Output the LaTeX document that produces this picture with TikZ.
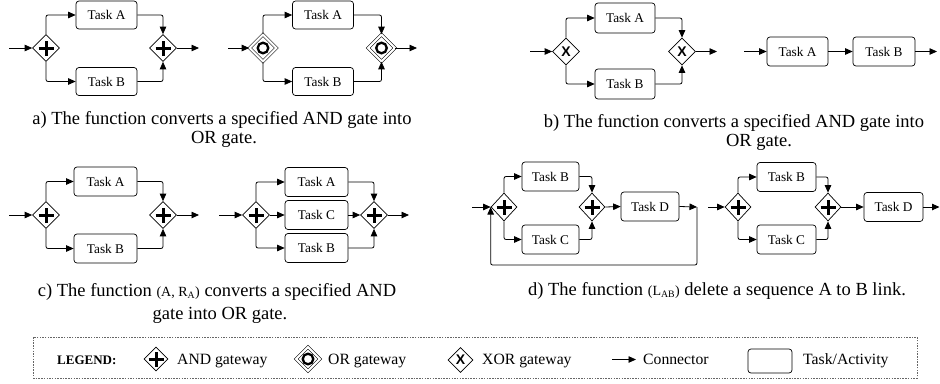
\documentclass[tikz,border=0pt]{standalone}
\usepackage{fontspec}
\setmainfont{Liberation Serif}
\setsansfont{Liberation Sans}
\usetikzlibrary{shapes.geometric,arrows.meta}
\tikzset{
  task/.style={draw, rounded corners=3pt, minimum width=61pt, minimum height=28pt, inner sep=0pt,
    font=\fontsize{13.3}{15}\selectfont, line width=0.7pt},
  gwbase/.style={diamond, draw, minimum width=27pt, minimum height=27pt, inner sep=0pt,
    line width=0.7pt, fill=white},
  andgw/.style={gwbase, path picture={
    \draw[line width=3pt] ([xshift=-7.5pt]path picture bounding box.center) -- ([xshift=7.5pt]path picture bounding box.center);
    \draw[line width=3pt] ([yshift=-7.5pt]path picture bounding box.center) -- ([yshift=7.5pt]path picture bounding box.center);}},
  orgw/.style={gwbase, double, line width=0.55pt, double distance=2pt, path picture={
    \draw[line width=2.3pt] (path picture bounding box.center) circle[radius=5.3pt];}},
  xorgw/.style={gwbase, font=\sffamily\bfseries\fontsize{14}{14}\selectfont},
  conn/.style={line width=0.8pt, -{Triangle[length=7.5pt,width=6.5pt]}, rounded corners=2pt},
  captxt/.style={font=\fontsize{18.5}{20}\selectfont, anchor=base, inner sep=0pt},
  lgtext/.style={font=\fontsize{15.7}{16}\selectfont, anchor=base west, inner sep=0pt},
}
\begin{document}
\begin{tikzpicture}[x=1pt,y=-1pt]
\useasboundingbox (0,0) rectangle (940,383);

% ---------------- panel a left
\coordinate (a1in) at (9,48);
\node[andgw] (g1) at (46,48) {};
\node[task] (ta1) at (106.5,15) {Task A};
\node[task] (tb1) at (106.5,81.5) {Task B};
\node[andgw] (g2) at (163,48) {};
\coordinate (a1out) at (199,48);
\draw[conn] (a1in) -- (g1.west);
\draw[conn] (g1.north) |- (ta1.west);
\draw[conn] (g1.south) |- (tb1.west);
\draw[conn] (ta1.east) -| (g2.north);
\draw[conn] (tb1.east) -| (g2.south);
\draw[conn] (g2.east) -- (a1out);

% ---------------- panel a right
\coordinate (a2in) at (228,48);
\node[orgw] (g3) at (263,48) {};
\node[task] (ta2) at (323,15) {Task A};
\node[task] (tb2) at (323,81.5) {Task B};
\node[orgw] (g4) at (381.5,48) {};
\coordinate (a2out) at (417,48);
\draw[conn] (a2in) -- (g3.west);
\draw[conn] (g3.north) |- (ta2.west);
\draw[conn] (g3.south) |- (tb2.west);
\draw[conn] (ta2.east) -| (g4.north);
\draw[conn] (tb2.east) -| (g4.south);
\draw[conn] (g4.east) -- (a2out);

\node[captxt] (capa1) at (222,124) {a) The function converts a specified AND gate into};
\node[captxt] (capa2) at (224,143) {OR gate.};

% ---------------- panel b left
\coordinate (b1in) at (530,51.5);
\node[xorgw] (g5) at (566,51.5) {X};
\node[task, minimum width=60pt, minimum height=30pt] (ta3) at (625,18) {Task A};
\node[task, minimum width=60pt, minimum height=30pt] (tb3) at (625,84) {Task B};
\node[xorgw] (g6) at (682,51.5) {X};
\coordinate (b1out) at (717,51.5);
\draw[conn] (b1in) -- (g5.west);
\draw[conn] (g5.north) |- (ta3.west);
\draw[conn] (g5.south) |- (tb3.west);
\draw[conn] (ta3.east) -| (g6.north);
\draw[conn] (tb3.east) -| (g6.south);
\draw[conn] (g6.east) -- (b1out);

% ---------------- panel b right
\coordinate (b2in) at (744,51.5);
\node[task, minimum height=29pt] (ta4) at (797.5,51.5) {Task A};
\node[task, minimum width=62pt, minimum height=29pt] (tb4) at (884,51.5) {Task B};
\coordinate (b2out) at (937,51.5);
\draw[conn] (b2in) -- (ta4.west);
\draw[conn] (ta4.east) -- (tb4.west);
\draw[conn] (tb4.east) -- (b2out);

\node[captxt] (capb1) at (734,127) {b) The function converts a specified AND gate into};
\node[captxt] (capb2) at (759,146) {OR gate.};

% ---------------- panel c left
\coordinate (c1in) at (9,215);
\node[andgw] (g7) at (46,215) {};
\node[task, minimum width=63pt, minimum height=29pt] (ta5) at (105.5,181.5) {Task A};
\node[task, minimum width=63pt, minimum height=29pt] (tb5) at (105.5,248.5) {Task B};
\node[andgw] (g8) at (163,215) {};
\coordinate (c1out) at (199,215);
\draw[conn] (c1in) -- (g7.west);
\draw[conn] (g7.north) |- (ta5.west);
\draw[conn] (g7.south) |- (tb5.west);
\draw[conn] (ta5.east) -| (g8.north);
\draw[conn] (tb5.east) -| (g8.south);
\draw[conn] (g8.east) -- (c1out);

% ---------------- panel c right
\coordinate (c2in) at (219,215);
\node[andgw] (g9) at (256,215) {};
\node[task, minimum width=63pt, minimum height=29pt] (ta6) at (316.5,182) {Task A};
\node[task, minimum width=63pt, minimum height=29pt] (tc6) at (316.5,215) {Task C};
\node[task, minimum width=63pt, minimum height=29pt] (tb6) at (316.5,248) {Task B};
\node[andgw] (g10) at (374,215) {};
\coordinate (c2out) at (409,215);
\draw[conn] (c2in) -- (g9.west);
\draw[conn] (g9.north) |- (ta6.west);
\draw[conn] (g9.east) -- (tc6.west);
\draw[conn] (g9.south) |- (tb6.west);
\draw[conn] (ta6.east) -| (g10.north);
\draw[conn] (tc6.east) -- (g10.west);
\draw[conn] (tb6.east) -| (g10.south);
\draw[conn] (g10.east) -- (c2out);

\node[captxt] (capc1) at (217,296.5) {c) The function {\fontsize{14}{14}\selectfont (A, R\textsubscript{A})} converts a specified AND};
\node[captxt] (capc2) at (220,319) {gate into OR gate.};

% ---------------- panel d left
\coordinate (d1in) at (472,207);
\node[andgw, minimum width=26pt, minimum height=28pt] (g11) at (504,207) {};
\node[task, minimum width=57pt, minimum height=29pt] (tb7) at (550.5,176.5) {Task B};
\node[task, minimum width=57pt, minimum height=29pt] (tc7) at (550.5,239.5) {Task C};
\node[andgw, minimum width=26pt, minimum height=28pt] (g12) at (592,207) {};
\node[task, minimum width=58pt, minimum height=29pt] (td7) at (650,206.5) {Task D};
\coordinate (d1loop) at (697,207);
\coordinate (d1low) at (697,265);
\draw[conn] (d1in) -- (g11.west);
\draw[conn] (g11.north) |- (tb7.west);
\draw[conn] (g11.south) |- (tc7.west);
\draw[conn] (tb7.east) -| (g12.north);
\draw[conn] (tc7.east) -| (g12.south);
\draw[conn] (g12.east) -- (td7.west);
\draw[conn] (td7.east) -- (d1loop);
\draw[conn] (d1loop) -- (d1low) -| (g11.west);

% ---------------- panel d right
\coordinate (d2in) at (708,207);
\node[andgw, minimum width=26pt, minimum height=28pt] (g13) at (738,207) {};
\node[task, minimum width=59pt, minimum height=29pt] (tb8) at (786.5,177) {Task B};
\node[task, minimum width=59pt, minimum height=29pt] (tc8) at (786.5,239.5) {Task C};
\node[andgw, minimum width=26pt, minimum height=28pt] (g14) at (828,207) {};
\node[task, minimum width=59pt, minimum height=29pt] (td8) at (893.5,207) {Task D};
\coordinate (d2out) at (939.5,207);
\draw[conn] (d2in) -- (g13.west);
\draw[conn] (g13.north) |- (tb8.west);
\draw[conn] (g13.south) |- (tc8.west);
\draw[conn] (tb8.east) -| (g14.north);
\draw[conn] (tc8.east) -| (g14.south);
\draw[conn] (g14.east) -- (td8.west);
\draw[conn] (td8.east) -- (d2out);

\node[captxt] (capd) at (717,295) {d) The function {\fontsize{14}{14}\selectfont (L\textsubscript{AB})} delete a sequence A to B link.};

% ---------------- legend
\node[draw=black!60, dashed, dash pattern=on 1.5pt off 1.2pt, line width=0.5pt,
  minimum width=884pt, minimum height=41pt, inner sep=0pt] (legendbox) at (475,357.5) {};
\node[font=\bfseries\fontsize{13}{13}\selectfont, anchor=base west, inner sep=0pt] (lg) at (57,364.5) {LEGEND:};
\node[andgw, minimum width=24pt, minimum height=24pt] (lgand) at (156,359) {};
\node[lgtext] (lgandt) at (177,364.5) {AND gateway};
\node[orgw, minimum width=24pt, minimum height=24pt] (lgor) at (308,359) {};
\node[lgtext] (lgort) at (328,364.5) {OR gateway};
\node[xorgw, minimum width=25pt, minimum height=25pt] (lgxor) at (460.5,360) {X};
\node[lgtext] (lgxort) at (482,364.5) {XOR gateway};
\coordinate (lgc1) at (612,359.5);
\coordinate (lgc2) at (636,359.5);
\draw[conn] (lgc1) -- (lgc2);
\node[lgtext] (lgct) at (643,364.5) {Connector};
\node[draw, rounded corners=3pt, line width=0.7pt, minimum width=44pt, minimum height=24pt, inner sep=0pt] (lgtask) at (770,361) {};
\node[lgtext] (lgtaskt) at (803,364.5) {Task/Activity};
\end{tikzpicture}
\end{document}
